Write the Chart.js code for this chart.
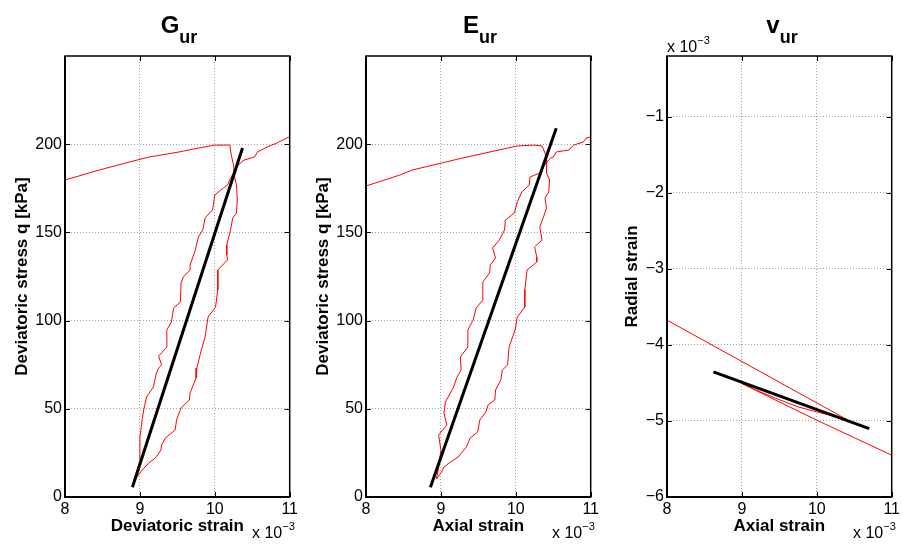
<!DOCTYPE html>
<html>
<head>
<meta charset="utf-8">
<script src="https://cdn.jsdelivr.net/npm/chart.js@4"></script>
<style>
  body { margin: 0; background: #fff; }
  #wrap { position: relative; width: 903px; height: 544px; font-family: 'Liberation Sans', Arial, sans-serif; color: #000; }
  canvas { position: absolute; top: 0; }
  .ttl { position: absolute; top: 13px; transform: translateX(-50%); font-weight: bold; font-size: 24px; line-height: 1; white-space: nowrap; }
  .ttl span { font-size: 18px; position: relative; top: 10px; }
  .exp { position: absolute; font-size: 16px; line-height: 1; white-space: nowrap; }
  .exp span { font-size: 11px; position: relative; top: -8px; }
</style>
</head>
<body>
<div id="wrap">
  <canvas id="cG" width="301" height="544" style="left:0"></canvas>
  <canvas id="cE" width="301" height="544" style="left:301px"></canvas>
  <canvas id="cV" width="301" height="544" style="left:602px"></canvas>

  <div class="ttl" style="left:179px">G<span>ur</span></div>
  <div class="ttl" style="left:480px">E<span>ur</span></div>
  <div class="ttl" style="left:782px">v<span>ur</span></div>

  <div class="exp" style="left:252px; top:525px">x 10<span>&minus;3</span></div>
  <div class="exp" style="left:552px; top:525px">x 10<span>&minus;3</span></div>
  <div class="exp" style="left:853px; top:525px">x 10<span>&minus;3</span></div>
  <div class="exp" style="left:667px; top:39px">x 10<span>&minus;3</span></div>
</div>

<script>
// tick values (strain in units of 1e-3)
const strainTicks = [8, 9, 10, 11];
const stressTicks = [0, 50, 100, 150, 200];
const radialTicks = [-6, -5, -4, -3, -2, -1];

// G_ur: deviatoric strain vs q (load -> unload -> reload)
const gStrain = [8.00, 8.46, 8.86, 9.12, 9.51, 9.78, 10.00, 10.20,
  10.22, 10.25, 10.26, 10.29, 10.30, 10.29, 10.24, 10.21, 10.16, 10.16, 10.17, 10.04, 10.04, 10.01, 9.91, 9.87,
  9.82, 9.76, 9.75, 9.67, 9.66, 9.55, 9.49, 9.47, 9.34, 9.29, 9.28, 9.22, 9.12, 9.03, 8.96, 8.92,
  8.96, 8.99, 9.00, 9.01, 9.03, 9.05, 9.09, 9.18, 9.22, 9.25, 9.29, 9.25, 9.36, 9.36, 9.42, 9.45, 9.54, 9.55,
  9.58, 9.67, 9.67, 9.74, 9.78, 9.84, 9.87, 9.97, 10.00, 10.08, 10.17, 10.20, 10.28, 10.34, 10.39, 10.53,
  10.57, 10.70, 10.83, 10.96, 11.00];
const gStress = [179.7, 185.4, 189.9, 192.7, 195.5, 197.8, 199.5, 199.5,
  193.9, 188.2, 182.0, 176.9, 168.4, 161.0, 158.2, 151.4, 142.9, 137.2, 134.4, 128.7, 117.3, 107.7, 102.0, 90.7,
  83.3, 73.1, 67.5, 59.0, 55.0, 50.5, 43.7, 38.0, 33.4, 29.5, 26.6, 22.7, 19.3, 15.3, 11.3, 9.6,
  14.2, 19.3, 34.0, 36.8, 43.7, 49.3, 56.7, 62.4, 70.3, 73.1, 74.8, 79.9, 85.0, 94.7, 99.2, 107.1, 110.5, 121.3,
  124.7, 128.7, 131.5, 140.0, 147.4, 151.4, 158.2, 162.7, 171.2, 174.0, 176.9, 179.7, 186.5, 189.3, 191.0, 192.7,
  195.6, 198.4, 200.7, 203.5, 204.1];
const gFitStrain = [8.90, 10.37];
const gFitStress = [5.5, 197.8];

// E_ur: axial strain vs q
const eStrain = [8.00, 8.45, 8.62, 9.01, 9.23, 9.59, 9.89, 10.02, 10.24, 10.35,
  10.39, 10.41, 10.41, 10.45, 10.44, 10.39, 10.41, 10.37, 10.32, 10.35, 10.25, 10.28, 10.28, 10.15, 10.12,
  10.12, 10.02, 9.99, 9.91, 9.89, 9.82, 9.80, 9.73, 9.72, 9.63, 9.60, 9.52, 9.49, 9.39, 9.34, 9.23, 9.13,
  9.04, 9.01, 8.94,
  8.97, 9.00, 8.97, 9.00, 9.08, 9.04, 9.06, 9.17, 9.21, 9.27, 9.26, 9.36, 9.36, 9.43, 9.47, 9.56, 9.56,
  9.65, 9.66, 9.73, 9.69, 9.78, 9.85, 9.86, 9.98, 10.02, 10.08, 10.18, 10.19, 10.32, 10.38, 10.46, 10.50,
  10.54, 10.71, 10.77, 10.90, 10.94, 11.00];
const eStress = [176.3, 182.5, 185.4, 189.3, 191.6, 195.0, 197.8, 199.0, 199.5, 199.0,
  195.0, 191.0, 183.7, 179.7, 172.9, 169.5, 163.8, 158.7, 153.1, 145.7, 141.7, 136.1, 133.2, 128.7, 117.3,
  107.7, 102.0, 94.7, 85.0, 74.8, 72.0, 66.3, 60.7, 55.0, 52.2, 48.2, 43.7, 36.8, 33.4, 28.3, 22.7, 19.8,
  17.0, 14.2, 10.2,
  17.0, 26.6, 35.1, 36.8, 40.8, 47.6, 53.9, 62.4, 67.5, 72.0, 79.4, 85.0, 94.7, 100.3, 107.1, 111.7, 121.9,
  127.0, 131.5, 135.5, 141.2, 145.7, 151.4, 157.0, 161.0, 167.2, 172.9, 176.9, 181.4, 183.7, 188.0, 192.0, 192.7,
  195.6, 196.7, 199.5, 201.2, 203.5, 204.1];
const eFitStrain = [8.86, 10.54];
const eFitStress = [5.5, 209.0];

// v_ur: axial strain vs radial strain (units of 1e-3)
const vAxial = [8.00, 10.40, 10.20, 10.00, 9.75, 9.50, 9.25, 9.00, 9.50, 10.00, 10.50, 11.00];
const vRadial = [-3.674, -4.98, -4.93, -4.88, -4.815, -4.72, -4.62, -4.507, -4.75, -4.99, -5.22, -5.45];
const vFitAxial = [8.62, 10.70];
const vFitRadial = [-4.354, -5.10];

Chart.defaults.font.family = "'Liberation Sans', Arial, sans-serif";
Chart.defaults.color = '#000';

const toPoints = (xs, ys) => xs.map((x, i) => ({ x: x, y: ys[i] }));
const minus = v => v < 0 ? '\u2212' + Math.abs(v) : String(v);

// frame around the axes with inward tick marks, like matlab
const boxPlugin = {
  id: 'box',
  afterDraw(chart) {
    const { ctx, chartArea: a, scales } = chart;
    const len = 5;
    ctx.save();
    ctx.strokeStyle = '#000';
    ctx.lineWidth = 1;
    ctx.beginPath();
    scales.x.ticks.forEach(t => {
      const px = Math.round(scales.x.getPixelForValue(t.value)) + 0.5;
      ctx.moveTo(px, a.bottom); ctx.lineTo(px, a.bottom - len);
      ctx.moveTo(px, a.top); ctx.lineTo(px, a.top + len);
    });
    scales.y.ticks.forEach(t => {
      const py = Math.round(scales.y.getPixelForValue(t.value)) + 0.5;
      ctx.moveTo(a.left, py); ctx.lineTo(a.left + len, py);
      ctx.moveTo(a.right, py); ctx.lineTo(a.right - len, py);
    });
    ctx.stroke();
    ctx.lineWidth = 1.5;
    ctx.strokeRect(a.left, a.top, a.right - a.left, a.bottom - a.top);
    // bottom and left edges a bit heavier
    ctx.lineWidth = 2;
    ctx.beginPath();
    ctx.moveTo(a.left, a.top); ctx.lineTo(a.left, a.bottom); ctx.lineTo(a.right, a.bottom);
    ctx.stroke();
    ctx.restore();
  }
};

function makePanel(id, curve, fit, yCfg, xTitle, yTitle, yTitlePad, padRight) {
  new Chart(document.getElementById(id), {
    type: 'scatter',
    data: {
      datasets: [{
        data: fit,
        showLine: true,
        borderColor: '#000',
        borderWidth: 3,
        pointRadius: 0
      }, {
        data: curve,
        showLine: true,
        borderColor: '#ff0000',
        borderWidth: 1,
        pointRadius: 0
      }]
    },
    options: {
      responsive: false,
      animation: false,
      layout: { padding: { top: 56, right: padRight, left: 0, bottom: 0 } },
      plugins: { legend: { display: false }, tooltip: { enabled: false } },
      scales: {
        x: {
          type: 'linear',
          min: 8,
          max: 11,
          afterBuildTicks: s => { s.ticks = strainTicks.map(v => ({ value: v })); },
          afterFit: s => { s.height = 47; },
          ticks: { font: { size: 16 }, padding: 3, maxRotation: 0, autoSkip: false, callback: v => String(v) },
          grid: { color: '#a2a2a2', lineWidth: 1, drawTicks: false },
          border: { display: false, dash: [1, 2] },
          title: { display: true, text: xTitle, font: { size: 17, weight: 'bold' }, padding: { top: 0, bottom: 7 } }
        },
        y: {
          type: 'linear',
          min: yCfg.min,
          max: yCfg.max,
          afterBuildTicks: s => { s.ticks = yCfg.ticks.map(v => ({ value: v })); },
          afterFit: s => { s.width = 65; },
          ticks: { font: { size: 16 }, padding: 3, autoSkip: false, callback: minus },
          grid: { color: '#a2a2a2', lineWidth: 1, drawTicks: false },
          border: { display: false, dash: [1, 2] },
          title: { display: true, text: yTitle, font: { size: 17, weight: 'bold' }, padding: { top: yTitlePad, bottom: 0 } }
        }
      }
    },
    plugins: [boxPlugin]
  });
}

makePanel('cG', toPoints(gStrain, gStress), toPoints(gFitStrain, gFitStress),
  { min: 0, max: 250, ticks: stressTicks }, 'Deviatoric strain', 'Deviatoric stress q [kPa]', 12, 8);
makePanel('cE', toPoints(eStrain, eStress), toPoints(eFitStrain, eFitStress),
  { min: 0, max: 250, ticks: stressTicks }, 'Axial strain', 'Deviatoric stress q [kPa]', 12, 7);
makePanel('cV', toPoints(vAxial, vRadial), toPoints(vFitAxial, vFitRadial),
  { min: -6, max: -0.2, ticks: radialTicks }, 'Axial strain', 'Radial strain', 20, 7);
</script>
</body>
</html>
